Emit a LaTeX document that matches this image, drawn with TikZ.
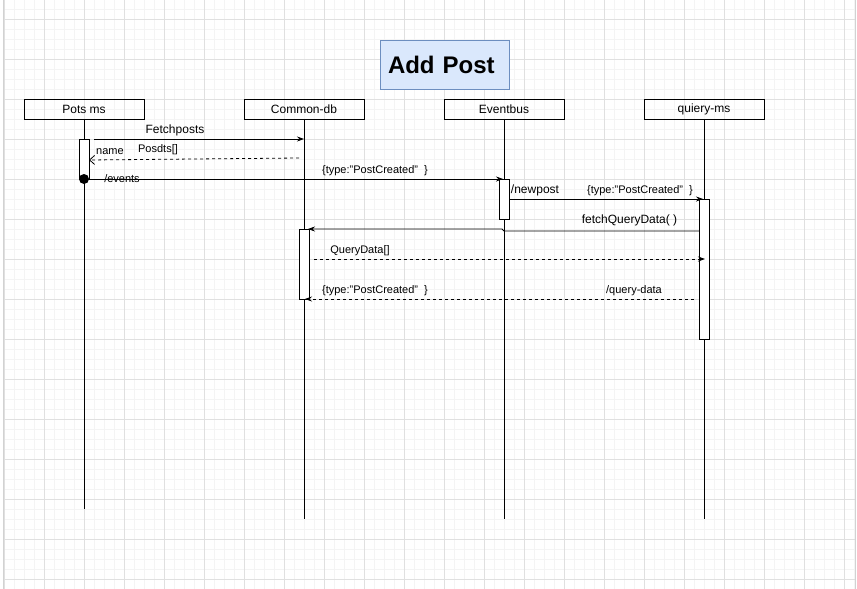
\documentclass[tikz,border=0pt]{standalone}
\usepackage{fontspec}
\setmainfont{Liberation Sans}
\usetikzlibrary{arrows.meta}
\definecolor{minorgrid}{HTML}{F4F4F4}
\definecolor{majorgrid}{HTML}{E0E0E0}
\definecolor{titlefill}{HTML}{DAE8FC}
\definecolor{titledraw}{HTML}{6C8EBF}
\tikzset{
  head/.style={draw, line width=0.8pt, minimum width=120pt, minimum height=20pt, inner sep=0pt, font=\fontsize{12}{14}\selectfont},
  life/.style={line width=0.8pt},
  actbox/.style={draw, fill=white, line width=0.8pt},
  msg/.style={line width=0.8pt, -{Stealth[length=7pt,width=5pt]}},
  ret/.style={line width=0.8pt, dash pattern=on 3pt off 3pt, -{Stealth[length=7pt,width=5pt]}},
  openret/.style={line width=0.8pt, dash pattern=on 3pt off 3pt, -{Straight Barb[length=5pt,width=9pt]}},
  lbl/.style={font=\fontsize{11}{13}\selectfont, inner sep=1pt},
}
\begin{document}
\begin{tikzpicture}[x=1pt,y=-1pt]
\useasboundingbox (0,0) rectangle (857,589);
\fill[white] (0,0) rectangle (857,589);
% grid
\foreach \x in {14,24,...,854} \draw[minorgrid, line width=0.6pt] (\x,0) -- (\x,589);
\foreach \y in {9,19,...,589} \draw[minorgrid, line width=0.6pt] (4,\y) -- (855,\y);
\foreach \x in {4,44,...,844} \draw[majorgrid, line width=0.6pt] (\x,0) -- (\x,589);
\foreach \y in {19,59,...,579} \draw[majorgrid, line width=0.6pt] (4,\y) -- (855,\y);
\draw[gray!35, line width=1pt] (3,0) -- (3,589);
\draw[gray!35, line width=1pt] (855,0) -- (855,589);

% title
\node[draw=titledraw, fill=titlefill, line width=0.8pt, minimum width=129pt, minimum height=49pt, text width=113pt, inner xsep=8pt, align=left, font=\bfseries\fontsize{24}{28}\selectfont] (title) at (444.5,64.5) {Add Post};

% lifeline heads
\node[head] (pots) at (84,109) {Pots ms};
\node[head] (cdb) at (304,109) {Common-db};
\node[head] (ebus) at (504,109) {Eventbus};
\node[head] (qms) at (704,109) {quiery-ms};

% lifelines
\coordinate (potsEnd) at (84,509);
\coordinate (cdbEnd) at (304,519);
\coordinate (ebusEnd) at (504,519);
\coordinate (qmsEnd) at (704,519);
\draw[life] (pots.south) -- (potsEnd);
\draw[life] (cdb.south) -- (cdbEnd);
\draw[life] (ebus.south) -- (ebusEnd);
\draw[life] (qms.south) -- (qmsEnd);

% activations
\draw[actbox] (79,139) rectangle (89,179);
\draw[actbox] (499,179) rectangle (509,219);
\draw[actbox] (699,199) rectangle (709,339);
\draw[actbox] (299,229) rectangle (309,299);

% message endpoints
\coordinate (m1s) at (94,139);  \coordinate (m1e) at (304,139);
\coordinate (m2s) at (299,158); \coordinate (m2e) at (89,160);
\coordinate (m3s) at (84,179);  \coordinate (m3e) at (503,179);
\coordinate (m4s) at (509,199); \coordinate (m4e) at (703,199);
\coordinate (m5s) at (699,231); \coordinate (m5a) at (504,231); \coordinate (m5b) at (502,229); \coordinate (m5e) at (308,229);
\coordinate (m6s) at (314,259); \coordinate (m6e) at (705,259);
\coordinate (m7s) at (694,299); \coordinate (m7e) at (305,299);

\draw[msg] (m1s) -- (m1e);
\draw[openret] (m2s) -- (m2e);
\fill (m3s) circle (5pt);
\draw[msg] (m3s) -- (m3e);
\draw[msg] (m4s) -- (m4e);
\draw[msg] (m5s) -- (m5a) -- (m5b) -- (m5e);
\draw[ret] (m6s) -- (m6e);
\draw[ret] (m7s) -- (m7e);

% labels
\node[lbl, font=\fontsize{12}{14}\selectfont] (l1) at (175,130) {Fetchposts};
\node[lbl] (l2a) at (110,152) {name};
\node[lbl] (l2b) at (158,150) {Posdts[]};
\node[lbl] (l3a) at (122,179) {/events};
\node[lbl] (l3b) at (375,170.5) {\{type:"PostCreated"\ \ \}};
\node[lbl, font=\fontsize{12}{14}\selectfont] (l4a) at (535,190) {/newpost};
\node[lbl] (l4b) at (640,190.5) {\{type:"PostCreated"\ \ \}};
\node[lbl, font=\fontsize{12}{14}\selectfont] (l5) at (629.5,220.5) {fetchQueryData( )};
\node[lbl] (l6) at (360,250.5) {QueryData[]};
\node[lbl] (l7a) at (375,290.5) {\{type:"PostCreated"\ \ \}};
\node[lbl] (l7b) at (634,290.5) {/query-data};
\end{tikzpicture}
\end{document}
